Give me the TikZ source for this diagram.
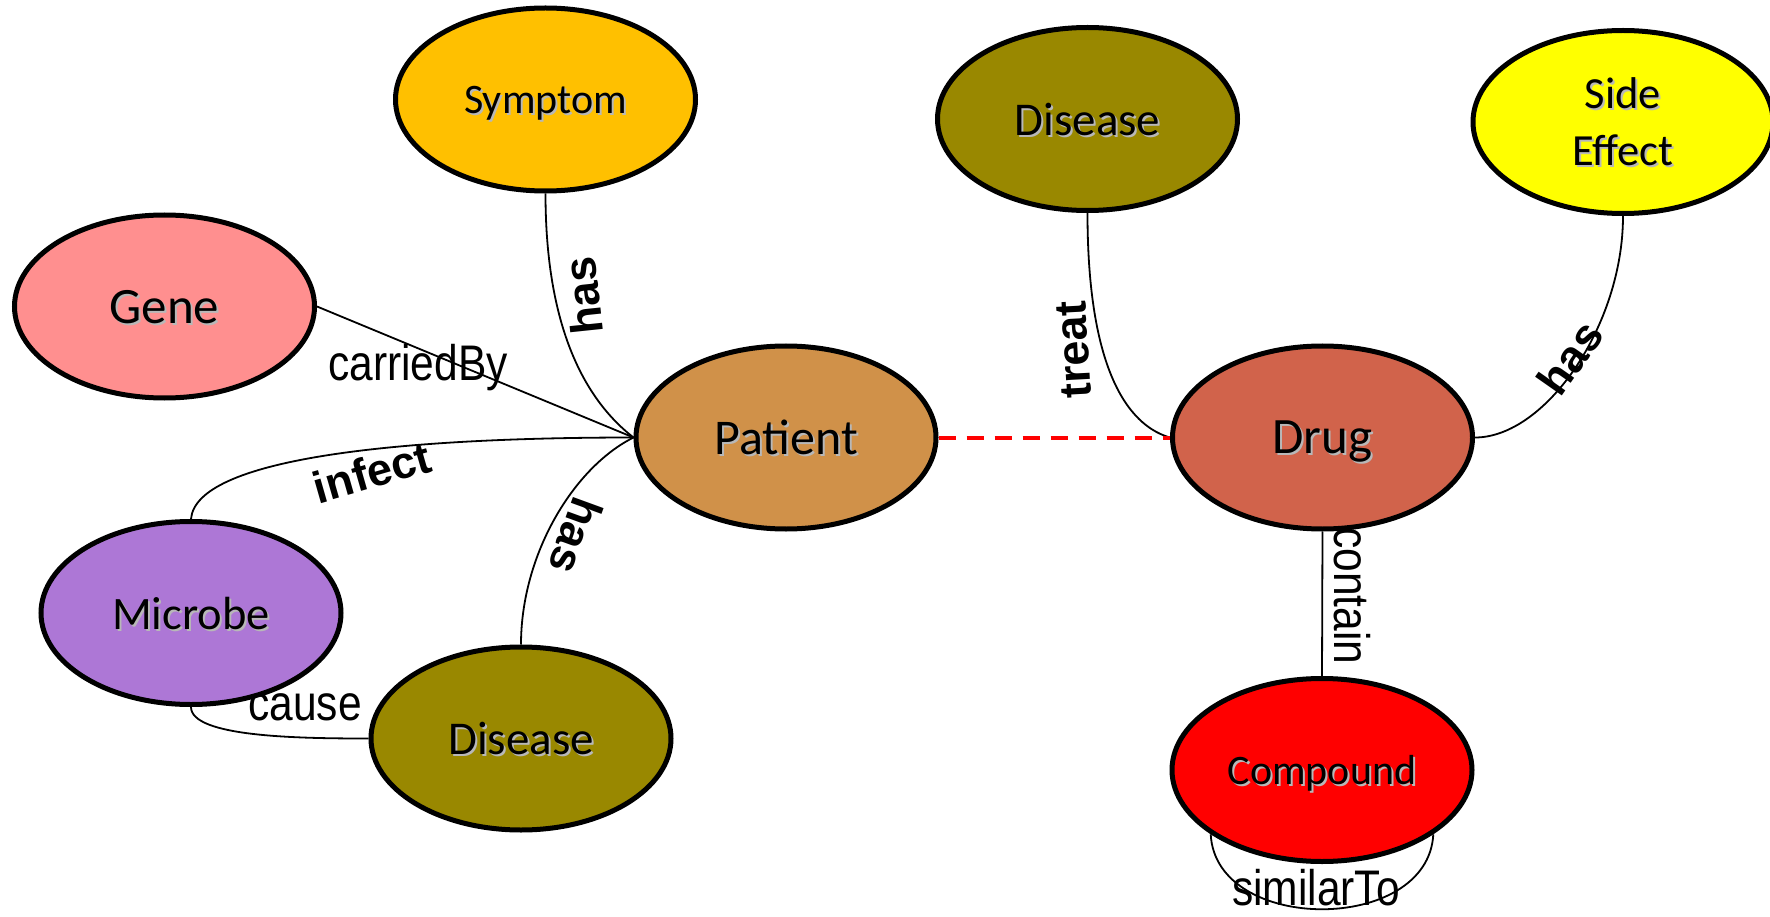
\documentclass[tikz,border=0pt]{standalone}
\usepackage{fontspec}
\usepackage{graphicx}
\setmainfont{Carlito}
\newfontfamily\labfont{Liberation Sans}
\usetikzlibrary{shapes.geometric,backgrounds}
\definecolor{cSym}{RGB}{255,192,0}
\definecolor{cGene}{RGB}{255,143,143}
\definecolor{cPat}{RGB}{208,145,73}
\definecolor{cMic}{RGB}{173,119,214}
\definecolor{cDis}{RGB}{153,136,0}
\definecolor{cSide}{RGB}{255,255,0}
\definecolor{cDrug}{RGB}{209,99,75}
\definecolor{cComp}{RGB}{255,0,0}
\newcommand{\shd}[1]{\makebox[0pt][l]{\hspace{2pt}\raisebox{-2pt}{\textcolor{black!28}{#1}}}#1}
\newcommand{\fsz}[1]{\fontsize{#1}{#1}\selectfont}
\newcommand{\nar}[1]{\scalebox{0.85}[1]{#1}}
\begin{document}
\begin{tikzpicture}[x=1pt,y=-1pt,
  ent/.style={ellipse,draw=black,line width=5pt,minimum width=300pt,minimum height=183pt,inner sep=0pt,align=center,text depth=0pt},
  rel/.style={black,line width=1.8pt},
  lab/.style={inner sep=0pt,font=\labfont\fsz{50}},
  blab/.style={inner sep=0pt,font=\labfont\bfseries\fsz{45}}]
\useasboundingbox (0,0) rectangle (1770,917);
% nodes
\node[ent,fill=cSym,font=\fsz{42}] (sym) at (545.5,99.5) {\shd{Symptom}};
\node[ent,fill=cGene,font=\fsz{51}] (gene) at (164.5,306.5) {\shd{Gene}};
\node[ent,fill=cPat,font=\fsz{50}] (pat) at (786,437.5) {\shd{Patient}};
\node[ent,fill=cMic,font=\fsz{46.5}] (mic) at (191,613) {\shd{Microbe}};
\node[ent,fill=cDis,font=\fsz{47}] (disB) at (521,738.5) {\shd{Disease}};
\node[ent,fill=cDis,font=\fsz{47}] (disT) at (1087.5,119) {\shd{Disease}};
\node[ent,fill=cSide,font={\fontsize{44.5}{57}\selectfont}] (side) at (1623,122) {\shd{Side}\\\shd{Effect}};
\node[ent,fill=cDrug,font=\fsz{51}] (drug) at (1322.5,437.5) {\shd{Drug}};
\node[ent,fill=cComp,font=\fsz{42}] (comp) at (1322,770) {\shd{Compound}};
\begin{scope}[on background layer]
\fill[white] (0,0) rectangle (1770,917);
% connectors
\draw[rel] (sym.south) .. controls +(0,140) and +(-45,-35) .. (pat.west);
\draw[rel] (gene.east) -- (pat.west);
\draw[rel] (pat.west) .. controls +(-240,0) and +(5,-60) .. (mic.north);
\draw[rel] (pat.west) .. controls +(-60,30) and +(0,-90) .. (disB.north);
\draw[rel] (mic.south) .. controls +(0,30) and +(-70,0) .. (disB.west);
\draw[rel] (disT.south) .. controls +(0,170) and +(-35,-10) .. (drug.west);
\draw[rel] (drug.east) .. controls +(70,0) and +(0,110) .. (side.south);
\draw[rel] (drug.south) -- (comp.north);
\draw[rel] (comp.-150) .. controls +(5,100) and +(-5,100) .. (comp.-30);
\draw[red,line width=4pt,dash pattern=on 17pt off 11pt] (pat.east) -- (drug.west);
% labels
\node[lab,anchor=base] (lcar) at (418,380) {\nar{carriedBy}};
\node[lab,anchor=base] (lcause) at (305,720) {\nar{cause}};
\node[lab,anchor=base] (lsim) at (1316,905) {\nar{similarTo}};
\node[lab,rotate=-90] (lcont) at (1352,596) {\nar{contain}};
\node[blab,rotate=96] (lhas1) at (583,296) {has};
\node[blab,rotate=-110] (lhas2) at (576,536) {has};
\node[blab,rotate=93] (ltreat) at (1074,350) {treat};
\node[blab,rotate=55] (lhas3) at (1570,358) {has};
\node[blab,rotate=16] (linf) at (372,472) {infect};
\end{scope}
\end{tikzpicture}
\end{document}
